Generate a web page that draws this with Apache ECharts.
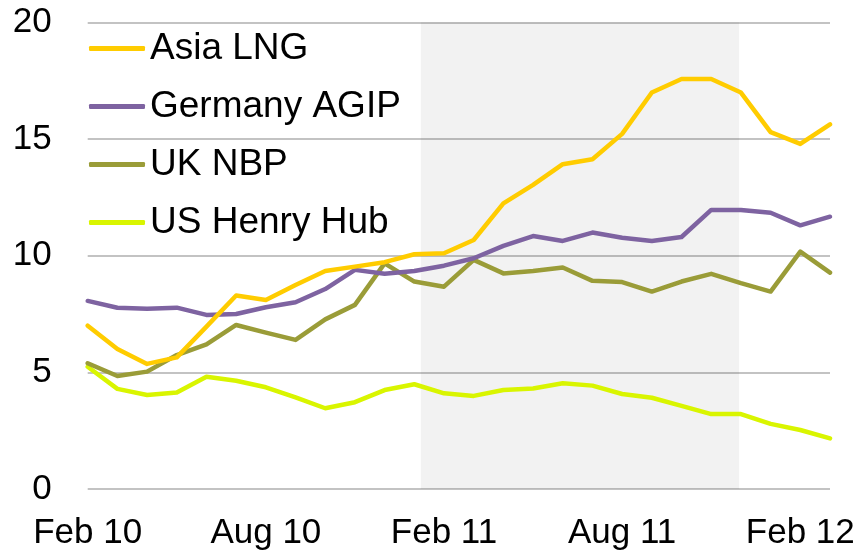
<!DOCTYPE html>
<html>
<head>
<meta charset="utf-8">
<script src="https://cdn.jsdelivr.net/npm/echarts@6/dist/echarts.min.js"></script>
<style>
html,body{margin:0;padding:0;background:#fff;}
#chart{width:862px;height:556px;}
</style>
</head>
<body>
<div id="chart"></div>
<script>
var months = ["Feb 10","Mar 10","Apr 10","May 10","Jun 10","Jul 10","Aug 10","Sep 10","Oct 10","Nov 10","Dec 10","Jan 11",
              "Feb 11","Mar 11","Apr 11","May 11","Jun 11","Jul 11","Aug 11","Sep 11","Oct 11","Nov 11","Dec 11","Jan 12",
              "Feb 12","Mar 12"];
var asiaLNG = [7.0,6.0,5.36,5.64,6.96,8.29,8.1,8.74,9.34,9.53,9.72,10.06,10.1,10.67,12.24,13.03,13.92,14.13,15.22,16.99,17.57,17.57,16.99,15.29,14.79,15.63];
var germanyAGIP = [8.06,7.77,7.72,7.77,7.46,7.5,7.79,8.0,8.57,9.39,9.22,9.34,9.57,9.89,10.42,10.84,10.63,10.99,10.77,10.63,10.8,11.96,11.96,11.84,11.3,11.67];
var ukNBP = [5.39,4.84,5.03,5.74,6.2,7.03,6.7,6.39,7.27,7.89,9.67,8.89,8.67,9.82,9.24,9.34,9.49,8.92,8.87,8.46,8.89,9.22,8.82,8.46,10.17,9.27];
var usHenryHub = [5.24,4.29,4.03,4.14,4.81,4.64,4.36,3.93,3.46,3.72,4.24,4.49,4.1,3.99,4.24,4.31,4.53,4.43,4.07,3.91,3.56,3.21,3.21,2.79,2.53,2.17];
var seriesNames = ["Asia LNG","Germany AGIP","UK NBP","US Henry Hub"];
var shadeRange = [11.22, 21.94];
var yTicks = [0,5,10,15,20];

var colors = ["#FFCC00","#7E63A1","#9A9C38","#D9F500"];
var font = "'Liberation Sans', Arial, sans-serif";
var chart = echarts.init(document.getElementById('chart'), null, {renderer:'canvas'});
var dataSets = [asiaLNG, germanyAGIP, ukNBP, usHenryHub];
var series = dataSets.map(function(d,i){
  return {
    name: seriesNames[i], type:'line', data:d, symbol:'none', smooth:false,
    xAxisIndex:0, yAxisIndex:0,
    lineStyle:{width:4.5, color:colors[i], cap:'round', join:'round'},
    itemStyle:{color:colors[i]}, z: 3 + (3 - i)
  };
});
series.push({
  name:'shade', type:'line', xAxisIndex:1, yAxisIndex:0, data:[], silent:true,
  markArea:{silent:true, itemStyle:{color:'rgba(0,0,0,0.05)'},
    data:[[{xAxis:shadeRange[0]},{xAxis:shadeRange[1]}]]}
});
chart.setOption({
  animation:false,
  backgroundColor:'#fff',
  color: colors,
  grid:{left:87.7, right:32, top:22.3, bottom:67},
  legend:{
    data: seriesNames, orient:'vertical', left:89, top:30, padding:0,
    icon:'roundRect', itemWidth:56, itemHeight:5, itemGap:21,
    textStyle:{fontFamily:font, fontSize:37, color:'#000', lineHeight:36}
  },
  xAxis:[{
    type:'category', data:months, boundaryGap:false,
    axisLine:{show:false}, axisTick:{show:false},
    axisLabel:{interval:5, fontFamily:font, fontSize:35, color:'#000', margin:27},
    splitLine:{show:false}
  },{
    type:'value', min:0, max:months.length-1, show:false
  }],
  yAxis:{
    type:'value', min:yTicks[0], max:yTicks[yTicks.length-1], interval:5,
    axisLine:{show:false}, axisTick:{show:false},
    axisLabel:{fontFamily:font, fontSize:35, color:'#000', margin:36},
    splitLine:{lineStyle:{color:'#c3c3c3', width:2}}
  },
  series: series
});
</script>
</body>
</html>
